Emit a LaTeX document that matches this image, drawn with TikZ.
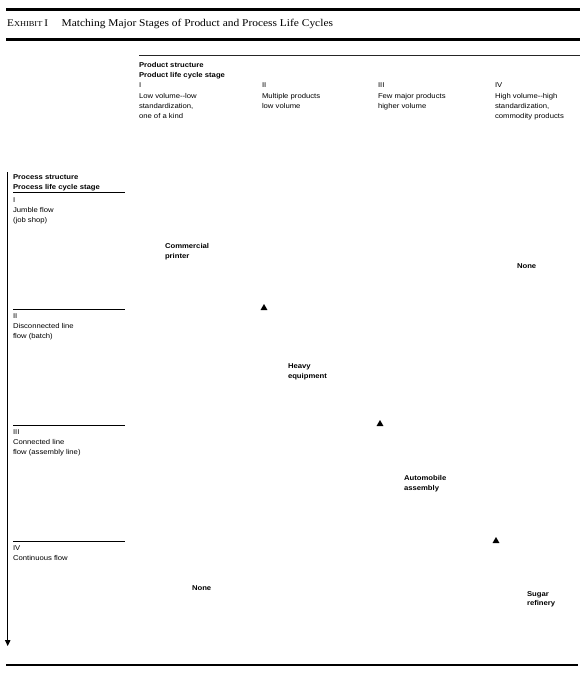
\documentclass[tikz,border=0pt]{standalone}
\usepackage{fontspec}
\setmainfont{Liberation Serif}[FakeStretch=1.1]
\newfontfamily\sansf{Liberation Sans}[FakeStretch=1.1]
\usetikzlibrary{arrows.meta,shapes.geometric}
\newcommand\Ln[1]{\hbox{#1}}
\tikzset{
  lbl/.style={font=\sansf\fontsize{7}{10}\selectfont, anchor=base west, inner sep=0pt, outer sep=0pt},
  blbl/.style={lbl, font=\sansf\bfseries\fontsize{7}{10}\selectfont},
  thickrule/.style={line width=2.9pt, line cap=butt},
  thinrule/.style={line width=0.9pt, black!85},
  rowrule/.style={line width=0.9pt},
  marker/.style={regular polygon, regular polygon sides=3, fill=black, inner sep=0pt, minimum size=8pt},
  axisarrow/.style={line width=1.1pt, -{Triangle[width=5.5pt,length=6pt]}},
}
\begin{document}
\begin{tikzpicture}[x=1pt,y=-1pt]
\useasboundingbox (0,0) rectangle (585,675);
% title rules
\coordinate (t1a) at (6,9.6); \coordinate (t1b) at (580,9.6);
\coordinate (t2a) at (6,39.2); \coordinate (t2b) at (580,39.2);
\coordinate (bra) at (6,665); \coordinate (brb) at (578,665);
\draw[thickrule] (t1a) -- (t1b);
\draw[thickrule] (t2a) -- (t2b);
\draw[thickrule] (bra) -- (brb);
\node[anchor=base west, inner sep=0pt] (exh) at (7,26.5) {\fontsize{10.2}{12}\selectfont E\fontsize{7.6}{9}\selectfont XHIBIT \fontsize{10.2}{12}\selectfont I};
\node[anchor=base west, inner sep=0pt] (title) at (61.5,26.5) {\fontsize{10.4}{12}\selectfont Matching Major Stages of Product and Process Life Cycles};
% header
\coordinate (hra) at (139,55); \coordinate (hrb) at (580,55);
\draw[thinrule] (hra) -- (hrb);
\node[blbl] (phead) at (139,67) {\vtop{\Ln{Product structure}\Ln{Product life cycle stage}}};
\node[lbl] (c1n) at (139,87.5) {I};
\node[lbl] (c2n) at (262,87.5) {II};
\node[lbl] (c3n) at (378,87.5) {III};
\node[lbl] (c4n) at (495,87.5) {IV};
\node[lbl] (c1) at (139,98) {\vtop{\Ln{Low volume--low}\Ln{standardization,}\Ln{one of a kind}}};
\node[lbl] (c2) at (262,98) {\vtop{\Ln{Multiple products}\Ln{low volume}}};
\node[lbl] (c3) at (378,98) {\vtop{\Ln{Few major products}\Ln{higher volume}}};
\node[lbl] (c4) at (495,98) {\vtop{\Ln{High volume--high}\Ln{standardization,}\Ln{commodity products}}};
% vertical axis
\coordinate (ax1) at (7.7,172); \coordinate (ax2) at (7.7,646);
\draw[axisarrow] (ax1) -- (ax2);
\node[blbl] (rhead) at (13,179) {\vtop{\Ln{Process structure}\Ln{Process life cycle stage}}};
\coordinate (r1a) at (13,192.5); \coordinate (r1b) at (125,192.5);
\coordinate (r2a) at (13,309); \coordinate (r2b) at (125,309);
\coordinate (r3a) at (13,425); \coordinate (r3b) at (125,425);
\coordinate (r4a) at (13,541); \coordinate (r4b) at (125,541);
\draw[rowrule] (r1a) -- (r1b);
\draw[rowrule] (r2a) -- (r2b);
\draw[rowrule] (r3a) -- (r3b);
\draw[rowrule] (r4a) -- (r4b);
\node[lbl] (r1) at (13,202) {\vtop{\Ln{I}\Ln{Jumble flow}\Ln{(job shop)}}};
\node[lbl] (r2) at (13,318.5) {\vtop{\Ln{II}\Ln{Disconnected line}\Ln{flow (batch)}}};
\node[lbl] (r3) at (13,434.5) {\vtop{\Ln{III}\Ln{Connected line}\Ln{flow (assembly line)}}};
\node[lbl] (r4) at (13,550.5) {\vtop{\Ln{IV}\Ln{Continuous flow}}};
% matrix entries
\node[blbl] (cp) at (165,248.5) {\vtop{\baselineskip=9.6pt\Ln{Commercial}\Ln{printer}}};
\node[blbl] (he) at (288,368.5) {\vtop{\baselineskip=9.6pt\Ln{Heavy}\Ln{equipment}}};
\node[blbl] (aa) at (404,480.5) {\vtop{\baselineskip=9.6pt\Ln{Automobile}\Ln{assembly}}};
\node[blbl] (sr) at (527,596) {\vtop{\baselineskip=9.6pt\Ln{Sugar}\Ln{refinery}}};
\node[blbl] (none1) at (517,268.5) {None};
\node[blbl] (none2) at (192,590) {None};
\node[marker] (m1) at (264,308) {};
\node[marker] (m2) at (380,424) {};
\node[marker] (m3) at (496,541) {};
\end{tikzpicture}
\end{document}
